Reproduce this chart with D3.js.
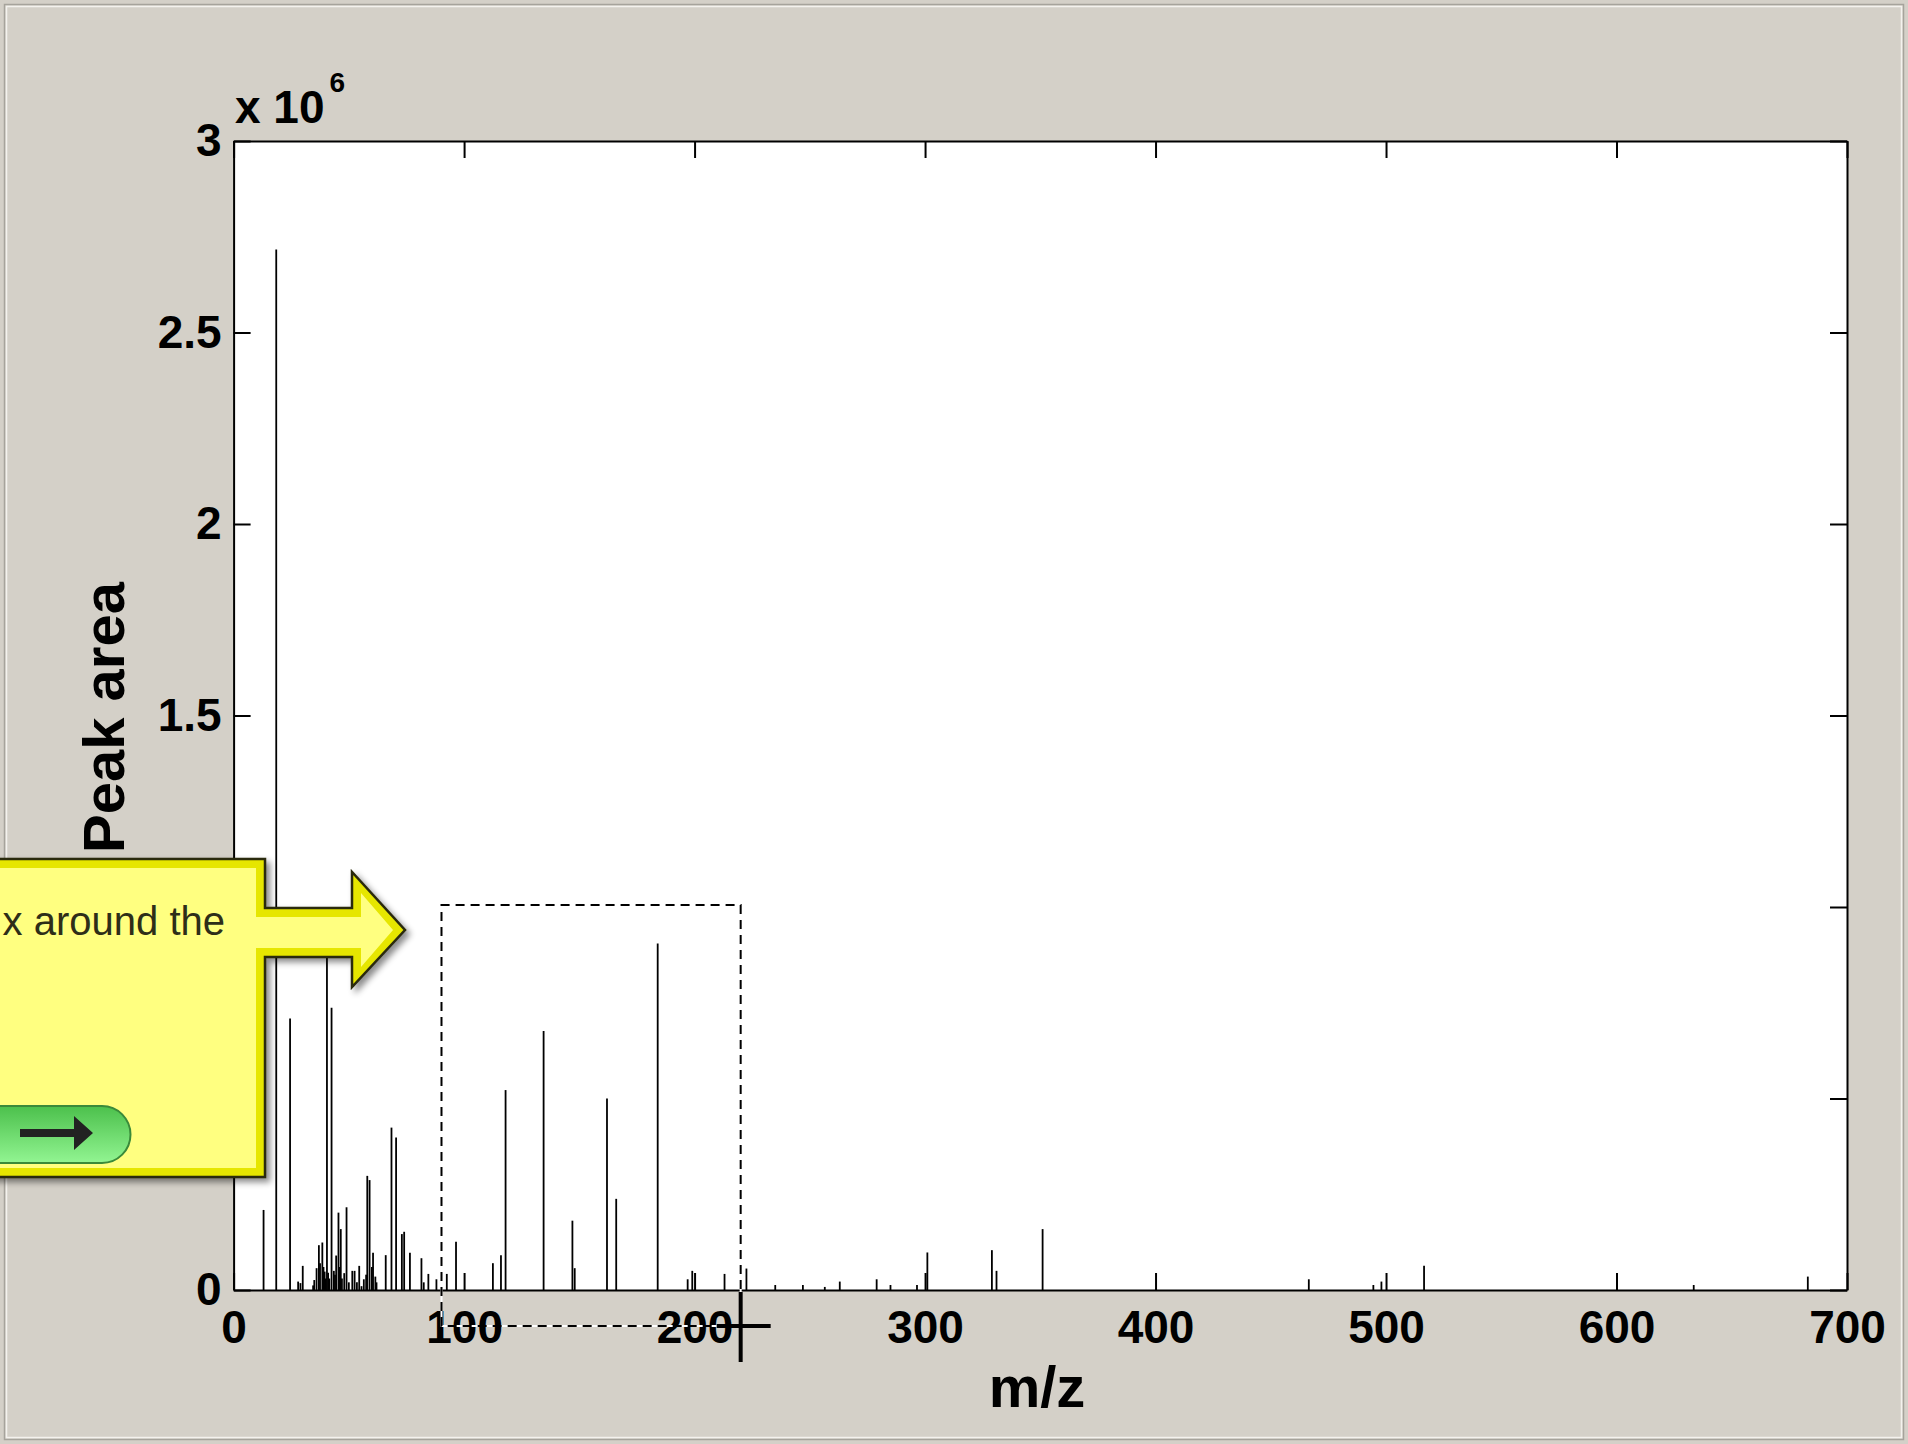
<!DOCTYPE html>
<html><head><meta charset="utf-8">
<script src="https://cdn.jsdelivr.net/npm/d3@7"></script>
<style>body{margin:0;background:#d4d0c8;overflow:hidden}svg{display:block}</style>
</head><body>
<svg id="c" width="1908" height="1444"></svg>
<script>
// ---- data (m/z and peak area in units of 10^6) ----
const mz = [13,18.5,24.5,28,29,30,34.5,35,36,37,37.5,38.5,39,39.5,40,40.5,41,41.5,42.5,43.5,44,44.5,45.5,46,46.5,47,48,49,50,51.5,52.5,53.5,54.5,55.5,56.5,57.5,58,59,60,60.5,61.5,62,66,68.5,70.5,73,74,76.5,81.5,82.5,84.5,88,92.5,96.5,112.5,116,118,134.5,147,148,162,166,184,197,199,213,222.5,235,247,256.5,263,279,285,296.5,301,329,331,351,466.5,494.5,498,516.5,633.5,683];
const area = [0.209,2.717,0.709,0.022,0.018,0.063,0.012,0.026,0.057,0.117,0.07,0.124,0.06,0.048,0.03,0.90,0.045,0.03,0.737,0.05,0.04,0.09,0.202,0.06,0.159,0.03,0.044,0.216,0.02,0.05,0.05,0.02,0.063,0.01,0.028,0.04,0.298,0.287,0.06,0.097,0.035,0.02,0.091,0.424,0.398,0.146,0.152,0.097,0.083,0.02,0.042,0.028,0.042,0.126,0.07,0.091,0.522,0.676,0.181,0.057,0.5,0.238,0.905,0.028,0.05,0.042,0.056,0.013,0.013,0.008,0.022,0.028,0.013,0.013,0.098,0.104,0.05,0.159,0.028,0.013,0.022,0.063,0.013,0.035];
const xTicks = [0,100,200,300,400,500,600,700];
const xTickLabels = ["0","100","200","300","400","500","600","700"];
const yTicks = [0,0.5,1,1.5,2,2.5,3];
const yTickLabels = ["0","0.5","1","1.5","2","2.5","3"];
const xLabel = "m/z", yLabel = "Peak area";
// rubber-band zoom selection (m/z, area x10^6)
const zoomSel = {x0: 90.2, x1: 220, y0: -0.094, y1: 1.005};
const calloutText = "x around the";

const W = 1908, H = 1444;
const M = {l: 233.6, r: 1847, t: 141, b: 1290};
const svg = d3.select('#c');
const FONT = "'Liberation Sans', Arial, Helvetica, sans-serif";
// screen area hidden by the tutorial callout
const calloutBox = {x0: -20, x1: 265, y0: 859, y1: 1177};

// figure background + window frame
svg.append('rect').attr('width', W).attr('height', H).attr('fill', '#d4d0c8');
svg.append('rect').attr('x', 4.5).attr('y', 4.5).attr('width', W - 9).attr('height', H - 9)
  .attr('fill', 'none').attr('stroke', '#a6a39c').attr('stroke-width', 1.5);
svg.append('rect').attr('x', 6.5).attr('y', 6.5).attr('width', W - 13).attr('height', H - 13)
  .attr('fill', 'none').attr('stroke', '#f4f2ee').attr('stroke-width', 1.5);

const x = d3.scaleLinear().domain([0, 700]).range([M.l, M.r]);
const y = d3.scaleLinear().domain([0, 3]).range([M.b, M.t]);

// plot area
svg.append('rect').attr('x', M.l).attr('y', M.t).attr('width', M.r - M.l).attr('height', M.b - M.t).attr('fill', '#fff');

// stems
svg.append('g').selectAll('line').data(d3.range(mz.length)).join('line')
  .attr('x1', i => x(mz[i])).attr('x2', i => x(mz[i]))
  .attr('y1', y(0)).attr('y2', i => y(area[i]))
  .attr('stroke', '#000').attr('stroke-width', 1.8);

// axes
function styleAxis(g) {
  g.selectAll('.domain').attr('stroke', '#000').attr('stroke-width', 2);
  g.selectAll('.tick line').attr('stroke', '#000').attr('stroke-width', 2);
  g.selectAll('.tick text').attr('fill', '#000').attr('font-family', FONT)
    .attr('font-size', 46).attr('font-weight', 'bold');
}
svg.append('g').attr('transform', `translate(0,${M.b})`)
  .call(d3.axisBottom(x).tickValues(xTicks).tickFormat((d, i) => xTickLabels[i])
    .tickSizeInner(-17).tickSizeOuter(0).tickPadding(20)).call(styleAxis);
svg.append('g').attr('transform', `translate(0,${M.t})`)
  .call(d3.axisTop(x).tickValues(xTicks).tickFormat('')
    .tickSizeInner(-17).tickSizeOuter(0)).call(styleAxis);
const gl = svg.append('g').attr('transform', `translate(${M.l},0)`)
  .call(d3.axisLeft(y).tickValues(yTicks).tickFormat((d, i) => yTickLabels[i])
    .tickSizeInner(-17).tickSizeOuter(0).tickPadding(12)).call(styleAxis);
// labels lying under the callout are not visible in the picture
gl.selectAll('.tick').filter(d => y(d) > calloutBox.y0 - 20 && y(d) < calloutBox.y1)
  .select('text').remove();
svg.append('g').attr('transform', `translate(${M.r},0)`)
  .call(d3.axisRight(y).tickValues(yTicks).tickFormat('')
    .tickSizeInner(-17).tickSizeOuter(0)).call(styleAxis);

// exponent label
const ex = svg.append('text').attr('x', 235).attr('y', 123).attr('font-family', FONT)
  .attr('font-weight', 'bold').attr('font-size', 46).attr('fill', '#000');
ex.append('tspan').text('x 10');
ex.append('tspan').attr('font-size', 28).attr('dy', -31).attr('dx', 5).text('6');

// axis labels
svg.append('text').attr('x', 1037).attr('y', 1407).attr('text-anchor', 'middle')
  .attr('font-family', FONT).attr('font-weight', 'bold').attr('font-size', 58).text(xLabel);
svg.append('text').attr('transform', `translate(124,${(M.t + M.b) / 2 + 2}) rotate(-90)`)
  .attr('text-anchor', 'middle').attr('font-family', FONT).attr('font-weight', 'bold')
  .attr('font-size', 58).text(yLabel);

// zoom rubber-band rectangle
const zx0 = x(zoomSel.x0), zx1 = x(zoomSel.x1), zy0 = y(zoomSel.y0), zy1 = y(zoomSel.y1);
const zpath = `M${zx0},${zy0}V${zy1}H${zx1}V${zy0}Z`;
svg.append('path').attr('d', zpath).attr('fill', 'none').attr('stroke', '#fff').attr('stroke-width', 2);
svg.append('path').attr('d', zpath).attr('fill', 'none').attr('stroke', '#000')
  .attr('stroke-width', 2).attr('stroke-dasharray', '9,6');

// callout overlay
const defs = svg.append('defs');
const f = defs.append('filter').attr('id', 'sh').attr('x', '-20%').attr('y', '-20%').attr('width', '140%').attr('height', '140%');
f.append('feDropShadow').attr('dx', 4).attr('dy', 4).attr('stdDeviation', 3).attr('flood-color', '#000').attr('flood-opacity', 0.45);
const gg = defs.append('linearGradient').attr('id', 'gb').attr('x1', 0).attr('y1', 0).attr('x2', 0).attr('y2', 1);
gg.append('stop').attr('offset', 0).attr('stop-color', '#4cc04c');
gg.append('stop').attr('offset', 1).attr('stop-color', '#92f592');

const outer = 'M-20,859H265V908H352V872L405,930L352,987V957H265V1177H-20Z';
const inner = 'M-20,868H256V917H361V893L393,930L361,967V948H256V1168H-20Z';
const co = svg.append('g');
co.append('path').attr('d', outer).attr('fill', '#e6e600').attr('stroke', '#2a2a10')
  .attr('stroke-width', 2.5).attr('filter', 'url(#sh)');
co.append('path').attr('d', inner).attr('fill', '#ffff80');
co.append('text').attr('x', 225).attr('y', 935).attr('text-anchor', 'end')
  .attr('font-family', FONT).attr('font-size', 40).attr('fill', '#2e2e18').text(calloutText);
co.append('path').attr('d', 'M-20,1106H102A28.5,28.5 0 0 1 102,1163H-20Z')
  .attr('fill', 'url(#gb)').attr('stroke', '#3a8a3a').attr('stroke-width', 2);
co.append('path').attr('d', 'M20,1129H74V1116L93,1133L74,1150V1137H20Z').attr('fill', '#222');

// crosshair cursor
svg.append('line').attr('x1', zx1).attr('x2', zx1).attr('y1', zy0 - 34).attr('y2', zy0 + 36)
  .attr('stroke', '#000').attr('stroke-width', 4);
svg.append('line').attr('x1', zx1 - 24).attr('x2', zx1 + 30).attr('y1', zy0).attr('y2', zy0)
  .attr('stroke', '#000').attr('stroke-width', 4);
</script>
</body></html>
